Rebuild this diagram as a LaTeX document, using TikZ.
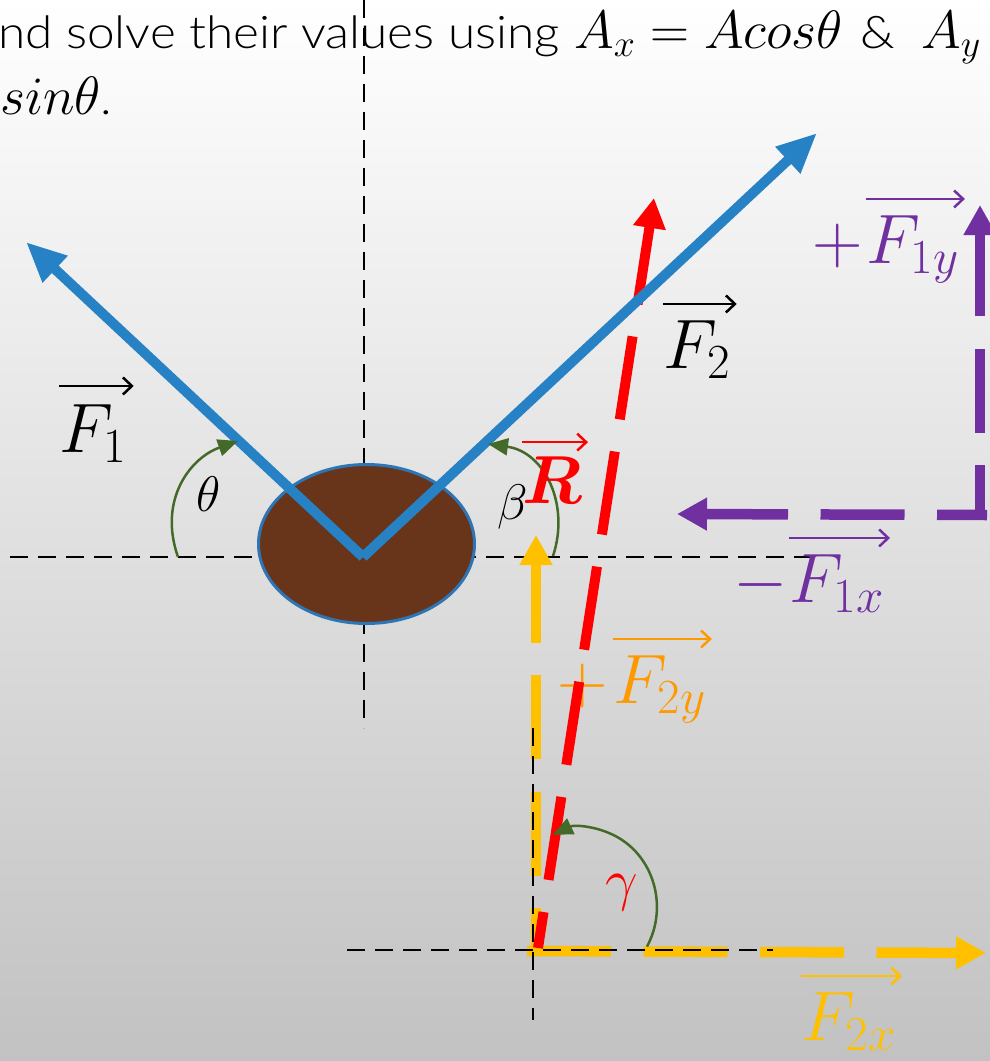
\RequirePackage{fix-cm}
\documentclass[tikz,border=0pt]{standalone}
\usepackage{amsmath}
\usepackage{fontspec}
\newfontfamily\titlefont[FakeStretch=1.1]{Lato Light}
\usetikzlibrary{arrows.meta,shapes.geometric}
\definecolor{fblue}{RGB}{38,130,196}
\definecolor{ellblue}{RGB}{46,117,182}
\definecolor{ellbrown}{RGB}{104,52,26}
\definecolor{rred}{RGB}{255,0,0}
\definecolor{ygold}{RGB}{255,192,0}
\definecolor{yorange}{RGB}{255,153,0}
\definecolor{ppurple}{RGB}{112,48,160}
\definecolor{agreen}{RGB}{67,106,40}
\tikzset{
  axisline/.style={black, line width=2.5pt, dash pattern=on 18pt off 10pt},
  bluevec/.style={fblue, line width=10pt, -{Triangle[length=40pt,width=34pt]}},
  compvec/.style={line width=10.5pt, dash pattern=on 84pt off 32.5pt, -{Triangle[length=30pt,width=31pt]}},
  anglearc/.style={agreen, line width=2.5pt, -{Triangle[length=20pt,width=17pt]}},
  biglabel/.style={inner sep=0pt, anchor=base west, font=\fontsize{70}{76}\selectfont},
  vecarrow/.style={line width=2.5pt, -{Straight Barb[length=9pt,width=17pt]}},
  anglelabel/.style={inner sep=0pt, font=\fontsize{50}{56}\selectfont},
  titletext/.style={inner sep=0pt, anchor=base west, font=\titlefont\fontsize{45}{52}\selectfont},
  titlemath/.style={inner sep=0pt, anchor=base west, font=\fontsize{54}{60}\selectfont}
}
\begin{document}
\begin{tikzpicture}[x=1pt,y=-1pt]
\useasboundingbox (0,0) rectangle (990,1061);
\shade[top color=white, middle color=black!7, bottom color=black!24] (0,0) rectangle (990,1061);

% title text
\node[titletext] (t1) at (-2,48) {nd solve their values using};
\node[titlemath] (t1m) at (574,48) {$A_x = Acos\theta$};
\node[titletext] (t1amp) at (860,48) {\&};
\node[titlemath] (t1ay) at (921,48) {$A_y$};
\node[titlemath] (t2) at (0,114) {$sin\theta$\titlefont\fontsize{45}{52}\selectfont.};

% main axes
\coordinate (O) at (363,557);
\coordinate (axT) at (364,0);
\coordinate (axB) at (364,728);
\coordinate (axL) at (10,557);
\coordinate (axR) at (817,557);
\draw[axisline] (axT) -- (axB);
\draw[axisline] (axL) -- (axR);

% body
\node[ellipse, draw=ellblue, fill=ellbrown, line width=3pt, minimum width=216pt, minimum height=159pt, inner sep=0pt] (body) at (366.5,544) {};

% yellow components of F2
\coordinate (Yb) at (536,956);
\coordinate (Ytip) at (536,535);
\coordinate (Xs) at (527,951);
\coordinate (Xtip) at (986,953);
\draw[compvec, ygold, dash phase=36pt] (Yb) -- (Ytip);
\draw[compvec, ygold] (Xs) -- (Xtip);

% small axes
\coordinate (sxL) at (347,950);
\coordinate (sxR) at (773,950);
\coordinate (syT) at (533,728);
\coordinate (syB) at (533,1020);
\draw[axisline] (sxL) -- (sxR);
\draw[axisline] (syT) -- (syB);

% purple components of F1
\coordinate (Pv) at (980,516);
\coordinate (Pytip) at (980,205);
\coordinate (Ph) at (987,515);
\coordinate (Pxtip) at (677,514);
\draw[compvec, ppurple, dash phase=33pt] (Pv) -- (Pytip);
\draw[compvec, ppurple, dash phase=34pt] (Ph) -- (Pxtip);

% labels of components
\node[biglabel, ppurple] (sF1y) at (812,263) {$+$};
\node[biglabel, ppurple] (lF1y) at (866,263) {$F_{1y}$};
\draw[vecarrow, ppurple] ([yshift=16pt]lF1y.north west) -- ([xshift=6pt,yshift=16pt]lF1y.north east);
\node[biglabel, ppurple] (sF1x) at (733,602) {$-$};
\node[biglabel, ppurple] (lF1x) at (789,602) {$F_{1x}$};
\draw[vecarrow, ppurple] ([yshift=16pt]lF1x.north west) -- ([xshift=6pt,yshift=16pt]lF1x.north east);
\node[biglabel, yorange] (sF2y) at (557,703) {$+$};
\node[biglabel, yorange] (lF2y) at (613,703) {$F_{2y}$};
\draw[vecarrow, yorange] ([yshift=16pt]lF2y.north west) -- ([xshift=6pt,yshift=16pt]lF2y.north east);
\node[biglabel, ygold] (lF2x) at (801,1040) {$F_{2x}$};
\draw[vecarrow, ygold] ([yshift=16pt]lF2x.north west) -- ([xshift=6pt,yshift=16pt]lF2x.north east);

% resultant
\coordinate (Rb) at (538,948);
\coordinate (Rtip) at (654,198);
\draw[compvec, rred, line width=10pt, dash phase=47.6pt] (Rb) -- (Rtip);

% forces
\coordinate (F1tip) at (26,242);
\coordinate (F2tip) at (817,133);
\draw[bluevec] (O) -- (F1tip);
\draw[bluevec] (O) -- (F2tip);
\node[biglabel] (lF1) at (59,452) {$F_1$};
\draw[vecarrow] ([yshift=18pt]lF1.north west) -- ([xshift=7pt,yshift=18pt]lF1.north east);
\node[biglabel] (lF2) at (663,368) {$F_2$};
\draw[vecarrow] ([yshift=16pt]lF2.north west) -- ([xshift=6pt,yshift=16pt]lF2.north east);

% angles
\coordinate (thS) at (178,557);
\coordinate (thE) at (238,441);
\draw[anglearc] (thS) .. controls (158,500) and (190,458) .. (thE);
\coordinate (beS) at (553,556);
\coordinate (beE) at (488,444);
\draw[anglearc] (beS) .. controls (570,505) and (545,452) .. (beE);
\coordinate (gaS) at (647,946.5);
\draw[anglearc] (gaS) arc[start angle=30, end angle=-114, x radius=74, y radius=79];

\node[anglelabel] (lth) at (209,494) {$\theta$};
\node[anglelabel] (lbe) at (513,507) {$\beta$};
\node[anglelabel, rred, font=\fontsize{58}{62}\selectfont] (lga) at (622,893) {$\gamma$};
\node[inner sep=0pt, anchor=base west, rred, font=\fontsize{68}{72}\selectfont] (lR) at (522,503) {$\boldsymbol{R}$};
\draw[vecarrow, rred] ([yshift=14pt]lR.north west) -- ([xshift=6pt,yshift=14pt]lR.north east);
\end{tikzpicture}
\end{document}
